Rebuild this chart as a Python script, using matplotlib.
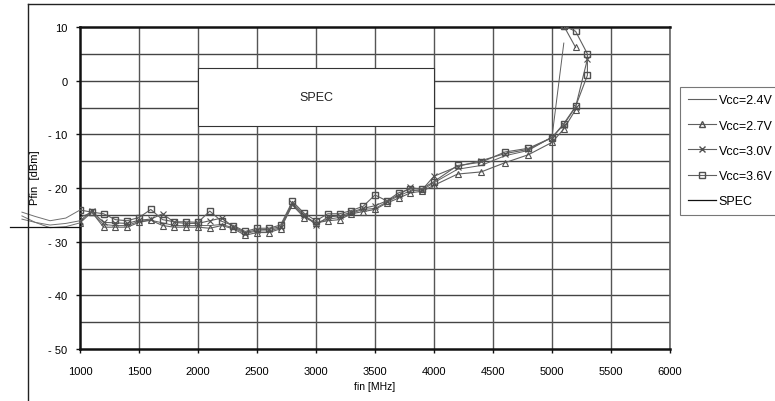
import numpy as np
import matplotlib
matplotlib.use("Agg")
import matplotlib.pyplot as plt
from matplotlib.lines import Line2D
from matplotlib.patches import Rectangle

plt.rcParams['font.family'] = ['Liberation Sans', 'DejaVu Sans']

# Frequency sweep points [MHz]
freq = [1000, 1100, 1200, 1300, 1400, 1500, 1600, 1700, 1800, 1900,
        2000, 2100, 2200, 2300, 2400, 2500, 2600, 2700, 2800, 2900,
        3000, 3100, 3200, 3300, 3400, 3500, 3600, 3700, 3800, 3900,
        4000, 4200, 4400, 4600, 4800, 5000]

# Output power [dBm] for each supply voltage
p_24 = [-25.5, -24.5, -26.8, -27.0, -27.0, -26.2, -26.0, -26.5, -27.0, -27.0,
        -27.0, -27.0, -26.8, -27.4, -28.5, -28.0, -28.0, -27.4, -23.0, -25.2,
        -26.5, -25.8, -25.5, -24.7, -24.0, -23.8, -22.6, -21.5, -20.5, -20.4,
        -19.0, -16.5, -15.8, -14.0, -13.0, -10.5]
p_27 = [-26.5, -24.5, -27.3, -27.3, -27.3, -26.4, -26.0, -27.0, -27.3, -27.3,
        -27.3, -27.5, -27.0, -27.6, -28.8, -28.3, -28.3, -27.6, -23.2, -25.5,
        -26.5, -26.1, -25.9, -24.8, -24.4, -24.0, -22.8, -21.9, -20.9, -20.6,
        -19.5, -17.4, -17.0, -15.3, -13.8, -11.5]
p_30 = [-26.1, -24.3, -26.4, -26.5, -26.6, -26.0, -25.8, -24.8, -26.4, -26.6,
        -26.6, -26.1, -25.6, -27.2, -28.3, -27.8, -27.7, -27.2, -22.8, -25.0,
        -26.9, -25.4, -25.2, -24.5, -23.8, -23.3, -22.4, -21.3, -19.9, -20.3,
        -17.8, -16.0, -14.9, -13.6, -12.8, -10.6]
p_36 = [-24.1, -24.5, -24.8, -25.9, -26.1, -25.5, -24.0, -25.9, -26.3, -26.3,
        -26.4, -24.3, -26.2, -27.0, -28.1, -27.5, -27.5, -26.9, -22.5, -24.7,
        -26.1, -24.8, -24.8, -24.2, -23.4, -21.3, -22.4, -20.9, -20.2, -20.1,
        -18.8, -15.8, -15.2, -13.3, -12.6, -10.6]

# Top end of the band (loss of lock region), including the return sweep
tail_f_24 = [5100]
tail_p_24 = [7.0]
tail_f_27 = [5100, 5200, np.nan, 5100, 5200]
tail_p_27 = [-9.0, -5.4, np.nan, 10.2, 6.2]
tail_f_30 = [5100, 5200, 5300]
tail_p_30 = [-8.2, -4.9, 4.0]
tail_f_36 = [5100, 5200, 5300, 5300, 5200, 5100]
tail_p_36 = [-8.0, -4.8, 1.0, 5.0, 9.2, 10.2]

# Trace lead-ins left of the plot area
lead_f = [508, 620, 746, 880, 1000]
lead_a = [-24.5, -25.3, -26.1, -25.6, -24.1]
lead_b = [-25.2, -26.4, -27.4, -27.2, -26.5]
lead_c = [-25.8, -26.4, -26.9, -26.6, -26.1]

# Specification limit
spec_f = [407, 1000]
spec_p = [-27.2, -27.2]

xticks = [1000, 1500, 2000, 2500, 3000, 3500, 4000, 4500, 5000, 5500, 6000]
yticks = [10, 0, -10, -20, -30, -40, -50]
ytick_labels = ["10", "0", "- 10", "- 20", "- 30", "- 40", "- 50"]

W, H = 775, 402
fig = plt.figure(figsize=(W / 100, H / 100), dpi=100)
ax = fig.add_axes([80 / W, 1 - 350 / H, 590 / W, 322 / H])

ax.set_xlim(1000, 6000)
ax.set_ylim(-50, 10)

# grid
for v in np.arange(-45, 10, 5):
    ax.axhline(v, color='#444444', lw=1.0, zorder=1)
for f in xticks[1:]:
    ax.axvline(f, color='#555555', lw=1.0, zorder=1)

line_col = '#606060'
mk_col = '#505050'

def curve(f, p, marker, ms, lw=0.8, mew=0.8):
    ax.plot(f, p, color=line_col, lw=lw, marker=marker, ms=ms,
            mfc='none', mec=mk_col, mew=mew, zorder=3)

curve(freq + tail_f_24, p_24 + tail_p_24, None, 0, lw=0.7)
curve(freq + tail_f_27, p_27 + tail_p_27, '^', 5)
curve(freq + tail_f_30, p_30 + tail_p_30, 'x', 4.5)
curve(freq + tail_f_36, p_36 + tail_p_36, 's', 4.5, mew=1.0)

for lp in (lead_a, lead_b, lead_c):
    ax.plot(lead_f, lp, color='#707070', lw=0.7, clip_on=False, zorder=3)
ax.plot(spec_f, spec_p, color='#111111', lw=0.9, clip_on=False, zorder=3)

# SPEC annotation box
ax.add_patch(Rectangle((2000, -8.4), 2000, 10.8, facecolor='white',
                       edgecolor='#333333', lw=0.8, zorder=4))
ax.text(3000, -3.0, "SPEC", ha='center', va='center', fontsize=9,
        color='#222222', zorder=5)

for s in ('left', 'bottom', 'top'):
    ax.spines[s].set_linewidth(1.8)
    ax.spines[s].set_color('#111111')
ax.spines['right'].set_linewidth(1.2)
ax.spines['right'].set_color('#666666')

ax.set_xticks(xticks)
ax.set_xticklabels([str(t) for t in xticks])
ax.set_yticks(yticks)
ax.set_yticklabels(ytick_labels)
ax.tick_params(axis='both', direction='out', length=3, width=1.0,
               labelsize=8, color='#111111', pad=6)
ax.tick_params(axis='x', pad=9)

ax.set_xlabel("fin [MHz]", fontsize=7.5, labelpad=4)
ax.set_ylabel("Pfin  [dBm]", fontsize=8)
ax.yaxis.set_label_coords(-40 / 590, (350 - 178) / 322)

# legend
handles = [
    Line2D([], [], color=line_col, lw=0.8),
    Line2D([], [], color=line_col, lw=0.8, marker='^', ms=5, mfc='none', mec=mk_col),
    Line2D([], [], color=line_col, lw=0.8, marker='x', ms=4.5, mec=mk_col),
    Line2D([], [], color=line_col, lw=0.8, marker='s', ms=4.5, mfc='none', mec=mk_col),
    Line2D([], [], color='#111111', lw=0.9),
]
labels = ["Vcc=2.4V", "Vcc=2.7V", "Vcc=3.0V", "Vcc=3.6V", "SPEC"]
leg = fig.legend(handles, labels, loc='upper left',
                 bbox_to_anchor=(680 / W, 1 - 88 / H), frameon=True,
                 fancybox=False, edgecolor='#555555', fontsize=9,
                 handlelength=2.3, handletextpad=0.2, labelspacing=1.05,
                 borderpad=0.6, borderaxespad=0)
leg.get_frame().set_linewidth(0.8)

# chart area border
fig.add_artist(Line2D([28 / W, 28 / W], [0, 1 - 5 / H], color='#222222', lw=1.0))
fig.add_artist(Line2D([28 / W, 1], [1 - 5 / H, 1 - 5 / H], color='#222222', lw=1.0))

fig.savefig("out.png", dpi=100, facecolor='white')
